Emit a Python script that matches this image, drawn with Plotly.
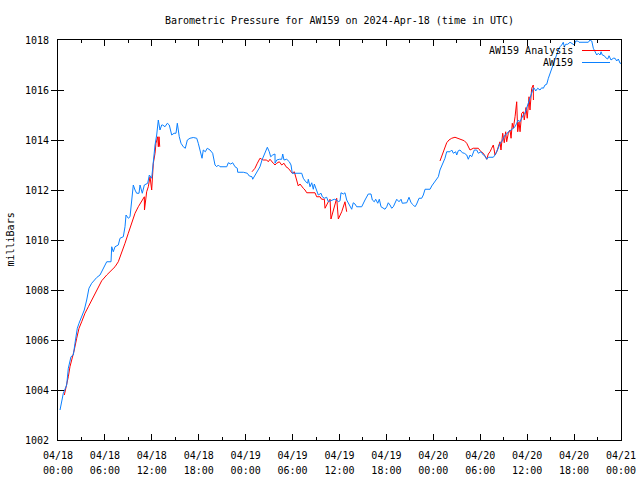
import pandas as pd
import plotly.graph_objects as go

START = "2024-04-18 00:00"

# AW159 observations: hours since start, pressure (mb)
obs_hours = [0.26, 0.68, 1.11, 1.32, 1.66, 1.96, 2.17, 2.47, 2.69, 3.03, 3.36, 3.67, 3.96, 4.31, 4.64, 4.95,
             5.37, 5.79, 6.23, 6.78, 6.87, 7.07, 7.29, 7.71, 7.93, 8.35, 8.57, 8.70, 8.99, 9.21, 9.43, 9.63,
             9.85, 10.06, 10.36, 10.49, 10.78, 11.04, 11.47, 11.68, 11.98, 12.19, 12.41, 12.62, 12.83, 13.04,
             13.26, 13.39, 13.68, 13.98, 14.23, 14.54, 14.84, 15.09, 15.26, 15.51, 15.73, 16.02, 16.28, 16.54,
             16.88, 17.30, 17.74, 17.94, 18.16, 18.42, 18.58, 18.84, 19.09, 19.44, 19.78, 20.08, 20.30, 20.50,
             20.72, 21.58, 21.78, 22.09, 22.34, 22.64, 22.93, 22.98, 23.70, 24.21, 24.47, 24.81, 24.90, 25.19,
             25.49, 25.83, 26.09, 26.47, 26.77, 27.02, 27.20, 27.46, 27.75, 27.76, 27.97, 28.30, 28.61, 28.74,
             28.90, 29.25, 29.58, 29.80, 29.96, 31.17, 31.37, 31.68, 31.93, 32.01, 32.23, 32.45, 32.65, 32.78,
             32.96, 33.12, 33.29, 33.64, 33.80, 34.06, 34.36, 34.57, 35.00, 35.34, 35.64, 35.85, 36.07, 36.19,
             36.49, 36.70, 36.92, 37.13, 37.34, 37.56, 37.76, 37.98, 38.20, 38.84, 39.26, 39.68, 40.03, 40.20,
             40.45, 40.63, 40.89, 41.09, 41.31, 41.60, 41.82, 42.04, 42.24, 42.46, 42.68, 42.88, 43.10, 43.32,
             43.61, 43.87, 44.03, 44.38, 44.60, 44.89, 45.15, 45.44, 45.66, 45.87, 46.17, 46.51, 46.72, 46.94,
             47.58, 47.79, 48.13, 48.43, 48.64, 48.85, 49.07, 49.28, 49.49, 49.71, 50.13, 50.35, 50.56, 50.86,
             50.99, 51.19, 51.41, 51.71, 51.96, 52.27, 52.47, 52.69, 52.91, 53.24, 53.55, 53.75, 54.10, 54.39,
             54.61, 54.83, 55.03, 55.25, 55.67, 55.89, 56.11, 56.31, 56.53, 56.75, 56.95, 57.17, 57.38, 57.59,
             57.94, 58.23, 58.45, 58.66, 58.87, 59.09, 59.30, 59.50, 59.71, 59.93, 60.14, 60.36, 60.58, 60.79,
             60.92, 61.09, 61.35, 61.64, 61.86, 62.07, 62.28, 62.50, 62.71, 62.92, 63.14, 63.35, 63.56, 63.78,
             63.98, 64.20, 64.42, 64.62, 64.75, 64.93, 65.19, 65.48, 65.78, 66.03, 66.21, 66.47, 66.63, 66.98,
             67.40, 67.82, 68.04, 68.26, 68.46, 68.68, 68.90, 69.10, 69.32, 69.45, 69.61, 69.87, 70.05, 70.30,
             70.47, 70.72, 71.02, 71.24, 71.45, 71.66, 71.88, 72.00]
obs_mb = [1003.20, 1003.87, 1004.20, 1004.87, 1005.33, 1005.40, 1005.87, 1006.47, 1006.67, 1006.93, 1007.20,
          1007.60, 1008.07, 1008.27, 1008.40, 1008.50, 1008.60, 1008.87, 1009.13, 1009.13, 1009.73, 1009.53,
          1009.73, 1009.80, 1010.07, 1010.13, 1010.53, 1011.00, 1010.87, 1010.93, 1011.67, 1012.20, 1012.00,
          1011.87, 1011.87, 1012.20, 1011.87, 1012.20, 1012.27, 1012.60, 1012.47, 1013.27, 1013.80, 1014.20,
          1014.80, 1014.40, 1014.60, 1014.60, 1014.53, 1014.67, 1014.60, 1014.20, 1014.27, 1014.27, 1014.67,
          1014.13, 1013.87, 1013.73, 1013.67, 1014.00, 1014.07, 1014.10, 1014.07, 1013.87, 1013.53, 1013.27,
          1013.60, 1013.53, 1013.67, 1013.60, 1013.47, 1013.00, 1012.93, 1013.00, 1012.93, 1012.93, 1013.09,
          1013.04, 1013.09, 1012.93, 1012.87, 1012.71, 1012.71, 1012.67, 1012.56, 1012.53, 1012.43, 1012.60,
          1012.73, 1012.93, 1013.20, 1013.47, 1013.71, 1013.53, 1013.33, 1013.40, 1013.44, 1013.07, 1013.20,
          1013.23, 1013.23, 1013.44, 1013.20, 1013.23, 1013.13, 1013.00, 1012.67, 1012.67, 1012.47, 1012.33,
          1012.27, 1012.43, 1012.13, 1012.29, 1012.03, 1012.24, 1012.07, 1011.93, 1011.80, 1011.87, 1011.73,
          1011.67, 1011.71, 1011.53, 1011.60, 1011.63, 1011.60, 1011.53, 1011.57, 1011.89, 1011.84, 1011.89,
          1011.60, 1011.47, 1011.36, 1011.23, 1011.49, 1011.44, 1011.33, 1011.33, 1011.60, 1011.84, 1011.84,
          1011.60, 1011.53, 1011.63, 1011.47, 1011.63, 1011.33, 1011.27, 1011.23, 1011.33, 1011.49, 1011.40,
          1011.27, 1011.33, 1011.47, 1011.63, 1011.53, 1011.63, 1011.47, 1011.47, 1011.49, 1011.71, 1011.49,
          1011.40, 1011.33, 1011.44, 1011.67, 1011.67, 1011.80, 1012.03, 1012.03, 1012.16, 1012.33, 1012.43,
          1012.53, 1012.80, 1012.96, 1013.09, 1013.27, 1013.53, 1013.53, 1013.60, 1013.47, 1013.53, 1013.40,
          1013.57, 1013.60, 1013.49, 1013.47, 1013.40, 1013.23, 1013.40, 1013.33, 1013.60, 1013.60, 1013.47,
          1013.53, 1013.40, 1013.36, 1013.23, 1013.31, 1013.31, 1013.31, 1013.40, 1013.53, 1013.67, 1013.87,
          1013.93, 1014.07, 1014.20, 1014.24, 1014.33, 1014.40, 1014.47, 1014.53, 1014.67, 1014.80, 1014.73,
          1014.87, 1015.00, 1015.07, 1015.27, 1015.40, 1015.67, 1015.87, 1016.07,
          1016.07, 1015.96, 1016.07, 1016.00, 1016.09, 1016.07, 1016.20, 1016.23, 1016.47, 1016.67, 1016.87,
          1017.07, 1017.27, 1017.47, 1017.60, 1017.73, 1017.80, 1017.91, 1017.73, 1017.83, 1017.83, 1017.91,
          1017.83, 1017.80, 1017.96, 1017.96, 1017.91, 1017.91, 1017.93, 1017.91, 1018.00, 1017.96, 1017.67,
          1017.53, 1017.40, 1017.47, 1017.40, 1017.53, 1017.40, 1017.37, 1017.29, 1017.24, 1017.37, 1017.20,
          1017.27, 1017.27, 1017.16, 1017.24, 1017.07, 1017.07]

# AW159 Analysis: three segments (hours since start, pressure mb)
ana1_hours = [0.81, 1.11, 1.32, 1.53, 1.83, 2.08, 2.39, 2.69, 3.03, 3.45, 3.88, 4.31, 4.73, 5.15, 5.59, 6.23,
              6.87, 7.29, 7.71, 8.15, 8.57, 8.99, 9.43, 9.85, 10.27, 10.78, 11.04, 11.06, 11.34, 11.55, 11.77,
              11.98, 12.19, 12.41, 12.53, 12.75, 12.83, 12.92, 13.01]
ana1_mb = [1003.80, 1004.20, 1004.53, 1004.93, 1005.27, 1005.60, 1006.07, 1006.47, 1006.73, 1007.07, 1007.33,
           1007.60, 1007.87, 1008.13, 1008.37, 1008.60, 1008.80, 1008.93, 1009.13, 1009.47, 1009.87, 1010.27,
           1010.67, 1011.07, 1011.33, 1011.60, 1011.73, 1011.20, 1011.93, 1012.13, 1012.53, 1012.00, 1013.07,
           1013.47, 1013.87, 1014.13, 1013.73, 1014.13, 1013.73]
ana2_hours = [24.81, 25.19, 25.49, 25.83, 26.05, 26.25, 26.69, 26.89, 27.11, 27.33, 27.53, 27.75, 27.97, 28.30,
              28.61, 28.90, 29.16, 29.45, 29.67, 29.96, 30.22, 30.40, 30.53, 30.73, 30.95, 31.17, 31.37, 31.59,
              31.81, 32.87, 33.08, 33.51, 33.72, 34.06, 34.15, 34.57, 34.79, 34.91, 35.21, 35.64, 35.85, 36.28,
              36.70, 36.92]
ana2_mb = [1012.73, 1012.87, 1013.07, 1013.27, 1013.23, 1013.20, 1013.20, 1013.13, 1013.23, 1013.13, 1013.07,
           1013.00, 1013.07, 1013.13, 1013.00, 1013.07, 1012.93, 1012.87, 1012.77, 1012.67, 1012.73, 1012.53,
           1012.33, 1012.16, 1012.24, 1012.13, 1012.07, 1012.00, 1011.89, 1011.89, 1011.73, 1011.73, 1011.63,
           1011.63, 1011.27, 1011.53, 1011.63, 1010.84, 1011.20, 1011.67, 1010.84, 1011.13, 1011.53, 1011.13]
ana3_hours = [48.85, 49.07, 49.28, 49.49, 49.71, 50.00, 50.35, 50.77, 51.11, 51.41, 51.71, 51.96, 52.27, 52.47,
              52.69, 53.11, 53.55, 53.75, 54.10, 54.39, 54.61, 54.83, 55.03, 55.25, 55.46, 55.67, 55.89, 56.11,
              56.31, 56.53, 56.65, 56.87, 57.07, 57.25, 57.38, 57.59, 57.81, 57.94, 58.10, 58.23, 58.45, 58.66,
              58.79, 58.96, 59.09, 59.30, 59.50, 59.63, 59.85, 60.01, 60.24, 60.36, 60.58, 60.78, 60.80]
ana3_mb = [1013.16, 1013.36, 1013.53, 1013.73, 1013.89, 1014.00, 1014.07, 1014.11, 1014.07, 1014.03, 1014.00,
           1013.97, 1013.87, 1013.73, 1013.60, 1013.67, 1013.67, 1013.67, 1013.53, 1013.47, 1013.36, 1013.23,
           1013.44, 1013.53, 1013.67, 1013.80, 1013.40, 1013.53, 1013.73, 1013.93, 1013.60, 1014.27, 1013.89,
           1014.33, 1013.93, 1014.27, 1014.40, 1014.07, 1014.67, 1014.47, 1014.93, 1015.53, 1014.33, 1014.73,
           1014.33, 1015.07, 1015.13, 1014.80, 1015.30, 1014.87, 1015.73, 1015.20, 1016.07, 1016.20, 1015.60]

x_tick_hours = list(range(0, 73, 6))
x_tick_dates = ["04/18", "04/18", "04/18", "04/18", "04/19", "04/19", "04/19", "04/19",
                "04/20", "04/20", "04/20", "04/20", "04/21"]
x_tick_times = ["00:00", "06:00", "12:00", "18:00", "00:00", "06:00", "12:00", "18:00",
                "00:00", "06:00", "12:00", "18:00", "00:00"]
y_ticks = [1002, 1004, 1006, 1008, 1010, 1012, 1014, 1016, 1018]

base = pd.Timestamp(START)
def to_time(hours):
    return [base + pd.Timedelta(hours=h) if h is not None else None for h in hours]

ana_hours = ana1_hours + [None] + ana2_hours + [None] + ana3_hours
ana_mb = ana1_mb + [None] + ana2_mb + [None] + ana3_mb

RED = "#ff0000"
BLUE = "#0a80ff"
FONT = "DejaVu Sans Mono"
FS = 10

fig = go.Figure()
fig.add_trace(go.Scatter(x=to_time(ana_hours), y=ana_mb, mode="lines", name="AW159 Analysis",
                         line=dict(color=RED, width=1), connectgaps=False))
# observations drawn on the overlaying x-axis (same range) so they sit above the analysis line
fig.add_trace(go.Scatter(x=to_time(obs_hours), y=obs_mb, mode="lines", name="AW159",
                         line=dict(color=BLUE, width=1), xaxis="x2", yaxis="y"))

W, H = 640, 480
L, R, T, B = 58, 19, 40, 40
pw, ph = W - L - R, H - T - B
def px(xp):
    return (xp - L) / pw
def py(yp):
    return (H - B - yp) / ph

# manual gnuplot-style legend (text right-aligned, sample to the right)
for i, (name, col) in enumerate([("AW159 Analysis", RED), ("AW159", BLUE)]):
    yy = 50.5 + 12 * i
    fig.add_annotation(x=px(575), y=py(yy), xref="paper", yref="paper", text=name,
                       showarrow=False, xanchor="right", yanchor="middle",
                       font=dict(family=FONT, size=FS, color="black"))
    fig.add_shape(type="line", xref="paper", yref="paper", x0=px(582), x1=px(610),
                  y0=py(yy), y1=py(yy), line=dict(color=col, width=1))

fig.add_annotation(x=px(2), y=0.5, xref="paper", yref="paper", text="milliBars", textangle=-90,
                   showarrow=False, font=dict(family=FONT, size=FS, color="black"))

xrange = [base, base + pd.Timedelta(hours=72)]
fig.update_layout(
    width=W, height=H,
    margin=dict(l=L, r=R, t=T, b=B, pad=0, autoexpand=False),
    paper_bgcolor="white", plot_bgcolor="white",
    showlegend=False,
    title=dict(text="Barometric Pressure for AW159 on 2024-Apr-18 (time in UTC)",
               x=0.5, xref="paper", xanchor="center",
               y=1 - 20 / H, yref="container", yanchor="middle", automargin=False,
               font=dict(family=FONT, size=FS, color="black")),
    font=dict(family=FONT, size=FS, color="black"),
    xaxis=dict(
        range=xrange, automargin=False,
        tickvals=to_time(x_tick_hours), ticktext=x_tick_dates,
        ticks="inside", ticklen=6, tickcolor="black", tickwidth=1,
        minor=dict(ticks="inside", ticklen=3, dtick=3 * 3600 * 1000, tick0=base, tickcolor="black"),
        showline=True, linecolor="black", linewidth=1, mirror="allticks",
        showgrid=False, zeroline=False, tickfont=dict(family=FONT, size=FS),
        ticklabelstandoff=6,
    ),
    xaxis2=dict(
        range=xrange, automargin=False, overlaying="x", anchor="y", side="bottom",
        tickvals=to_time(x_tick_hours), ticktext=x_tick_times,
        ticks="", showline=False, showgrid=False, zeroline=False,
        tickfont=dict(family=FONT, size=FS), ticklabelstandoff=23,
    ),
    yaxis=dict(
        range=[1002, 1018], tickvals=y_ticks, ticktext=[str(v) for v in y_ticks], automargin=False,
        ticks="inside", ticklen=6, tickcolor="black", tickwidth=1,
        showline=True, linecolor="black", linewidth=1, mirror="allticks",
        showgrid=False, zeroline=False, tickfont=dict(family=FONT, size=FS),
        ticklabelstandoff=6,
    ),
)

fig.write_html("out.html", config={"displayModeBar": False},
               post_script="document.body.style.margin='0';")
